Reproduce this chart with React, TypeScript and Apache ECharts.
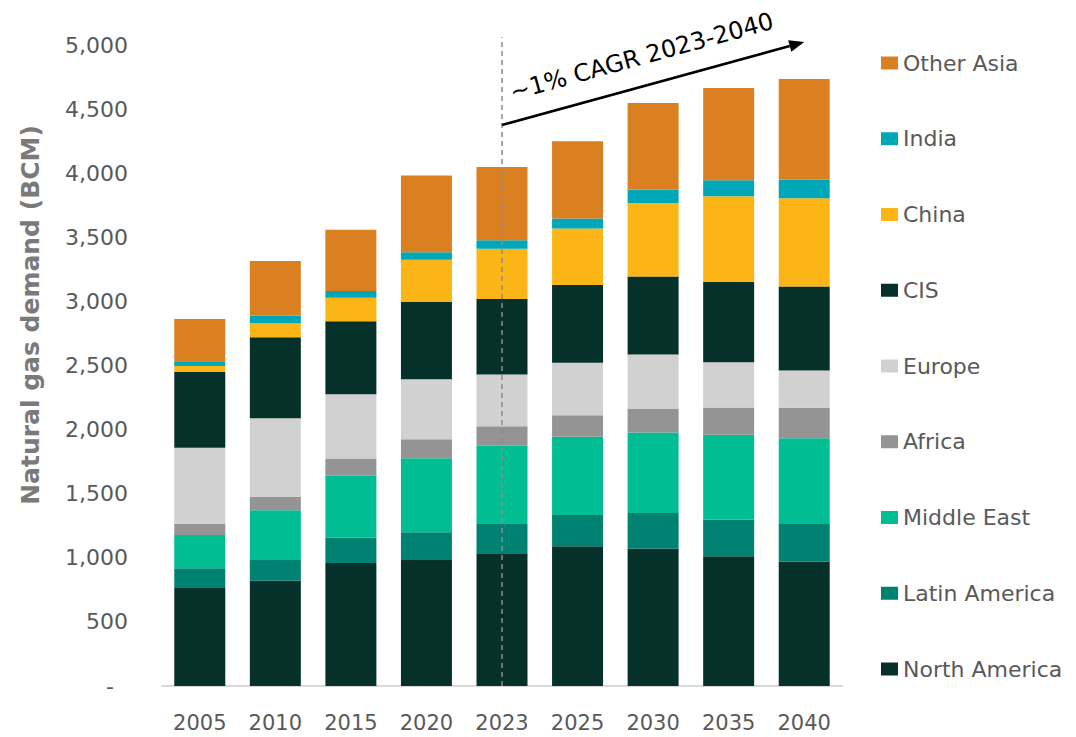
import React, { useEffect, useRef } from "react";
import * as echarts from "echarts";

const years = ["2005", "2010", "2015", "2020", "2023", "2025", "2030", "2035", "2040"];
const northAmerica = [770, 821, 960, 988, 1036, 1090, 1070, 1012, 972];
const latinAmerica = [148, 167, 197, 212, 233, 243, 280, 286, 292];
const middleEast = [260, 382, 483, 577, 605, 612, 627, 662, 669];
const africa = [86, 104, 134, 147, 153, 167, 184, 213, 237];
const europe = [595, 614, 502, 468, 403, 410, 424, 352, 291];
const cis = [590, 632, 570, 604, 588, 606, 609, 629, 655];
const china = [47, 109, 183, 328, 392, 441, 574, 667, 688];
const india = [37, 60, 53, 59, 67, 78, 104, 124, 146];
const otherAsia = [330, 426, 476, 599, 572, 603, 676, 720, 785];

const seriesNames = ["North America", "Latin America", "Middle East", "Africa", "Europe", "CIS", "China", "India", "Other Asia"];
const seriesData = [northAmerica, latinAmerica, middleEast, africa, europe, cis, china, india, otherAsia];
const seriesColors = ["#06312b", "#008272", "#00bd94", "#949494", "#d1d1d1", "#06312b", "#fbb516", "#00a7b8", "#db8020"];

const yTicks = { min: 0, max: 5000, interval: 500 };
const annotationText = "~1% CAGR 2023-2040";
const dashedLine = { category: "2023", from: 0, to: 5060 };
const arrowLine = { fromCat: "2023", fromVal: 4376, toCat: "2040", toVal: 5023 };

const FONT = "'DejaVu Sans', sans-serif";
const GREY = "#595959";

export default function App() {
  const ref = useRef<HTMLDivElement>(null);
  useEffect(() => {
    const chart = echarts.init(ref.current as HTMLDivElement, null, { renderer: "svg" });
    const option: any = {
      animation: false,
      backgroundColor: "#ffffff",
      textStyle: { fontFamily: FONT },
      grid: { left: 162, right: 234, top: 45, bottom: 51, containLabel: false },
      legend: {
        orient: "vertical",
        left: 876,
        top: 46,
        icon: "rect",
        itemWidth: 17,
        itemHeight: 13,
        itemGap: 51.75,
        data: [...seriesNames].reverse(),
        textStyle: { color: GREY, fontSize: 22, fontFamily: FONT, lineHeight: 24 },
        selectedMode: false,
      },
      xAxis: {
        type: "category",
        data: years,
        axisLine: { show: true, lineStyle: { color: "#d9d9d9", width: 2 } },
        axisTick: { show: false },
        axisLabel: { color: GREY, fontSize: 21, margin: 26, fontFamily: FONT },
      },
      yAxis: {
        type: "value",
        min: yTicks.min,
        max: yTicks.max,
        interval: yTicks.interval,
        splitLine: { show: false },
        axisLine: { show: false },
        axisTick: { show: false },
        axisLabel: {
          color: GREY,
          fontSize: 22,
          margin: 34,
          fontFamily: FONT,
          formatter: (v: number) => (v === 0 ? "{d|-}" : v.toLocaleString("en-US")),
          rich: { d: { color: GREY, fontSize: 22, fontFamily: FONT, padding: [0, 14, 0, 0] } },
        },
      },
      series: seriesNames.map((name, i) => ({
        name,
        type: "bar",
        stack: "total",
        barWidth: 51,
        data: seriesData[i],
        itemStyle: { color: seriesColors[i] },
        emphasis: { disabled: true },
      })),
    };
    chart.setOption(option);

    const px = (c: string, v: number) => chart.convertToPixel({ gridIndex: 0 }, [c, v]) as number[];
    const d0 = px(dashedLine.category, dashedLine.from);
    const d1 = px(dashedLine.category, dashedLine.to);
    const a0 = px(arrowLine.fromCat, arrowLine.fromVal);
    const a1 = px(arrowLine.toCat, arrowLine.toVal);
    const dx = a1[0] - a0[0];
    const dy = a1[1] - a0[1];
    const len = Math.sqrt(dx * dx + dy * dy);
    const ux = dx / len;
    const uy = dy / len;
    const nx = uy;
    const ny = -ux;
    const headLen = 15;
    const headW = 6;
    const base = [a1[0] - ux * headLen, a1[1] - uy * headLen];
    const midX = (a0[0] + a1[0]) / 2 + nx * 29 - ux * 4;
    const midY = (a0[1] + a1[1]) / 2 + ny * 29 - uy * 4;
    const angle = Math.atan2(-dy, dx);

    chart.setOption({
      graphic: [
        {
          type: "line",
          shape: { x1: d0[0], y1: d0[1], x2: d1[0], y2: d1[1] },
          style: { stroke: "#8c8c8c", lineWidth: 1.5, lineDash: [5, 4] },
          z: 10,
        },
        {
          type: "line",
          shape: { x1: a0[0], y1: a0[1], x2: base[0], y2: base[1] },
          style: { stroke: "#000000", lineWidth: 2.5 },
          z: 10,
        },
        {
          type: "polygon",
          shape: {
            points: [
              [a1[0], a1[1]],
              [base[0] + nx * headW, base[1] + ny * headW],
              [base[0] - nx * headW, base[1] - ny * headW],
            ],
          },
          style: { fill: "#000000" },
          z: 10,
        },
        {
          type: "text",
          x: midX,
          y: midY,
          rotation: angle,
          style: {
            text: annotationText,
            fill: "#000000",
            fontSize: 24,
            fontFamily: FONT,
            align: "center",
            verticalAlign: "middle",
          },
          z: 10,
        },
        {
          type: "text",
          x: 30,
          y: 315,
          rotation: Math.PI / 2,
          style: {
            text: "Natural gas demand (BCM)",
            fill: "#7a7a7a",
            fontSize: 25,
            fontWeight: "bold",
            fontFamily: FONT,
            align: "center",
            verticalAlign: "middle",
          },
        },
      ],
    });
    return () => chart.dispose();
  }, []);
  return <div ref={ref} style={{ position: "fixed", left: 0, top: 0, width: 1076, height: 737 }} />;
}
